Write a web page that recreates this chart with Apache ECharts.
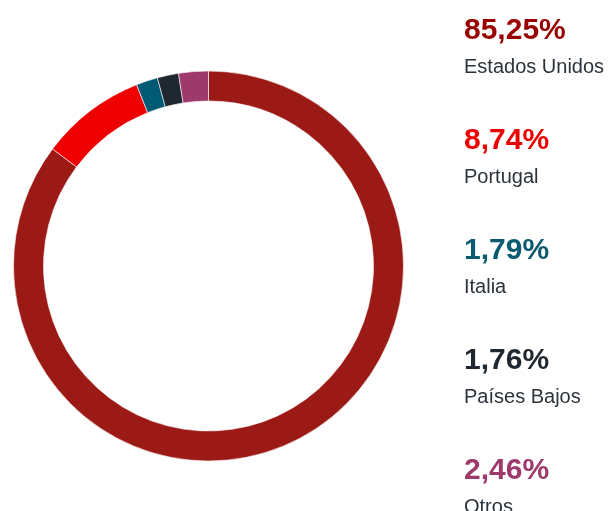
<!DOCTYPE html>
<html>
<head>
<meta charset="utf-8">
<script src="https://cdn.jsdelivr.net/npm/echarts@6/dist/echarts.min.js"></script>
<style>html,body{margin:0;padding:0;background:#fff}#c{width:611px;height:511px}</style>
</head>
<body>
<div id="c"></div>
<script>
const categories = ['Estados Unidos', 'Portugal', 'Italia', 'Países Bajos', 'Otros'];
const values = [85.25, 8.74, 1.79, 1.76, 2.46];
const ringColors = ['#9C1A16', '#EE0000', '#005A74', '#1F2730', '#9E3A6B'];
const labelColors = ['#990000', '#EE0000', '#0B5A70', '#1F2730', '#9E3A6B'];

const chart = echarts.init(document.getElementById('c'));
const fmt = v => v.toFixed(2).replace('.', ',') + '%';
const graphics = [];
categories.forEach((name, i) => {
  const base = 38 + i * 110;
  graphics.push({
    type: 'text', left: 464, top: base - 22,
    style: { text: fmt(values[i]), fill: labelColors[i], font: 'bold 30px "Liberation Sans", Arial, sans-serif' }
  });
  graphics.push({
    type: 'text', left: 464, top: base + 19,
    style: { text: name, fill: '#2B333B', font: '20px "Liberation Sans", Arial, sans-serif' }
  });
});
chart.setOption({
  animation: false,
  series: [{
    type: 'pie',
    center: [208.5, 266],
    radius: [165, 195],
    startAngle: 90,
    clockwise: true,
    label: { show: false },
    labelLine: { show: false },
    emphasis: { disabled: true },
    itemStyle: { borderColor: '#fff', borderWidth: 0.6 },
    data: categories.map((n, i) => ({ name: n, value: values[i], itemStyle: { color: ringColors[i] } }))
  }],
  graphic: graphics
});
</script>
</body>
</html>
